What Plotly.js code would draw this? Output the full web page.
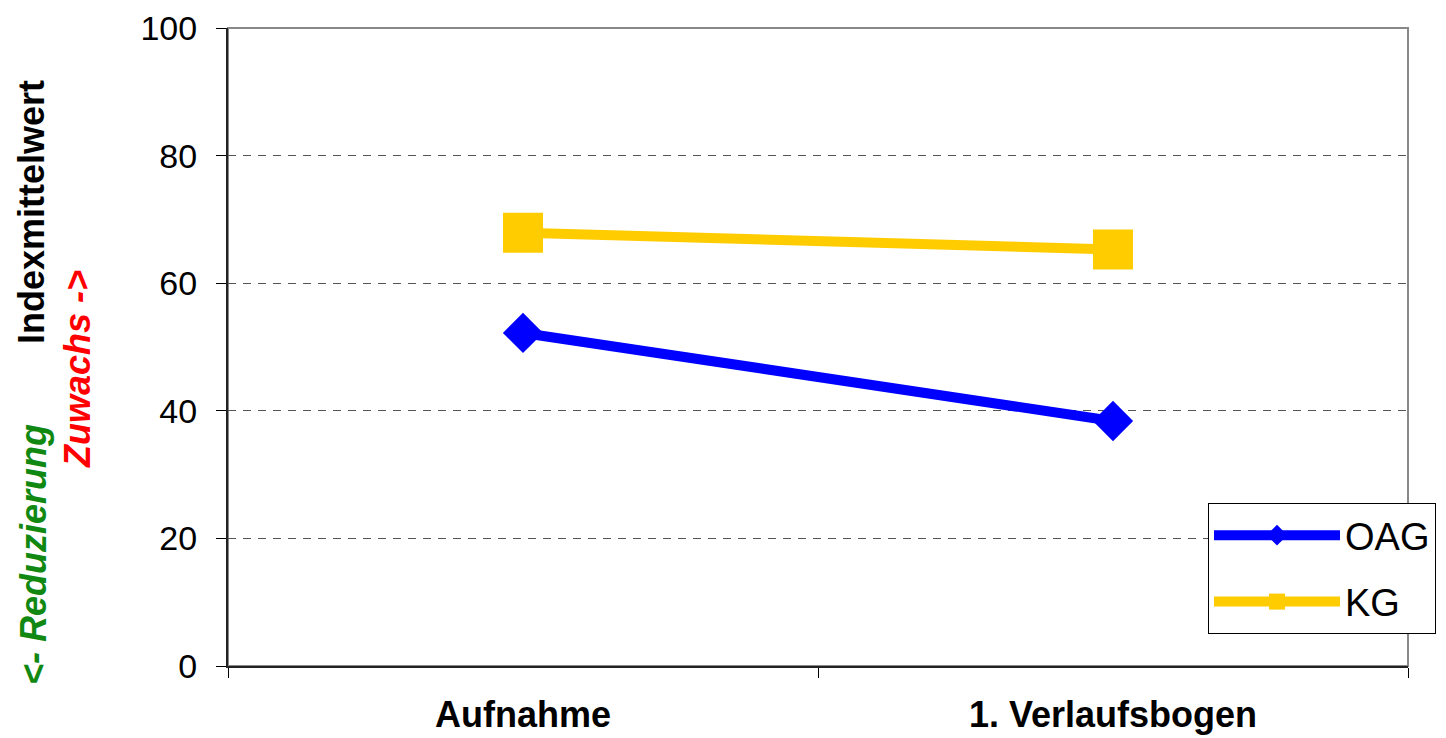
<!DOCTYPE html>
<html>
<head>
<meta charset="utf-8">
<script src="https://cdn.plot.ly/plotly-3.0.1.min.js"></script>
<style>
  html, body { margin: 0; padding: 0; background: #fff; }
  #chart { width: 1446px; height: 738px; }
</style>
</head>
<body>
<div id="chart"></div>
<script>
// ---- data ----
const categories = ["Aufnahme", "1. Verlaufsbogen"];
const oagValues = [52.2, 38.4];
const kgValues = [67.9, 65.3];
const seriesNames = ["OAG", "KG"];
const yTickValues = [0, 20, 40, 60, 80, 100];

const FONT = "Liberation Sans, Arial, sans-serif";

const traces = [
  {
    x: categories, y: oagValues, name: seriesNames[0], legendgroup: "a",
    type: "scatter", mode: "lines+markers",
    line: { color: "#0000FF", width: 10 },
    marker: { symbol: "diamond", size: 31, color: "#0000FF" }
  },
  {
    x: categories, y: kgValues, name: seriesNames[1], legendgroup: "b",
    type: "scatter", mode: "lines+markers",
    line: { color: "#FFCC00", width: 10 },
    marker: { symbol: "square", size: 40, color: "#FFCC00" }
  }
];

const layout = {
  width: 1446, height: 738,
  margin: { l: 228, r: 38, t: 28, b: 72, autoexpand: false },
  paper_bgcolor: "#ffffff",
  plot_bgcolor: "#ffffff",
  font: { family: FONT, color: "#000" },
  showlegend: true,
  legend: {
    x: (1208 - 228) / 1180, xanchor: "left",
    y: (666 - 503) / 638, yanchor: "top",
    bgcolor: "#ffffff", bordercolor: "#000000", borderwidth: 1,
    font: { family: FONT, size: 38, color: "#000" },
    itemwidth: 126, tracegroupgap: 14
  },
  xaxis: {
    type: "category",
    range: [-0.5, 1.5],
    tickson: "boundaries",
    ticks: "outside", ticklen: 10, tickcolor: "#000", tickwidth: 1,
    showline: true, linecolor: "#222", linewidth: 2,
    showgrid: false, zeroline: false,
    tickfont: { family: FONT, size: 36, color: "#000", weight: "bold" },
    ticklabelstandoff: 16,
    fixedrange: true
  },
  yaxis: {
    range: [0, 100],
    tickvals: yTickValues,
    ticks: "outside", ticklen: 10, tickcolor: "#000", tickwidth: 1,
    showline: true, linecolor: "#222", linewidth: 2,
    showgrid: true, gridcolor: "#555", gridwidth: 1, griddash: "8px,7px",
    zeroline: false,
    tickfont: { family: FONT, size: 34, color: "#000" },
    ticklabelstandoff: 12,
    fixedrange: true
  },
  shapes: [
    { type: "rect", xref: "paper", yref: "paper", x0: 0, x1: 1, y0: 0, y1: 1,
      line: { color: "#888", width: 2 }, layer: "below" }
  ],
  annotations: [
    { text: "<b>Indexmittelwert</b>", xref: "paper", yref: "paper",
      x: (32 - 228) / 1180, y: (666 - 212) / 638, xanchor: "center", yanchor: "middle",
      textangle: -90, showarrow: false,
      font: { family: FONT, size: 36, color: "#000" } },
    { text: "<b><i>&lt;- Reduzierung</i></b>", xref: "paper", yref: "paper",
      x: (33 - 228) / 1180, y: (666 - 555) / 638, xanchor: "center", yanchor: "middle",
      textangle: -90, showarrow: false,
      font: { family: FONT, size: 36, color: "#118811" } },
    { text: "<b><i>Zuwachs -&gt;</i></b>", xref: "paper", yref: "paper",
      x: (77 - 228) / 1180, y: (666 - 369) / 638, xanchor: "center", yanchor: "middle",
      textangle: -90, showarrow: false,
      font: { family: FONT, size: 36, color: "#FF0000" } }
  ]
};

Plotly.newPlot("chart", traces, layout, { displayModeBar: false, staticPlot: true });
</script>
</body>
</html>
